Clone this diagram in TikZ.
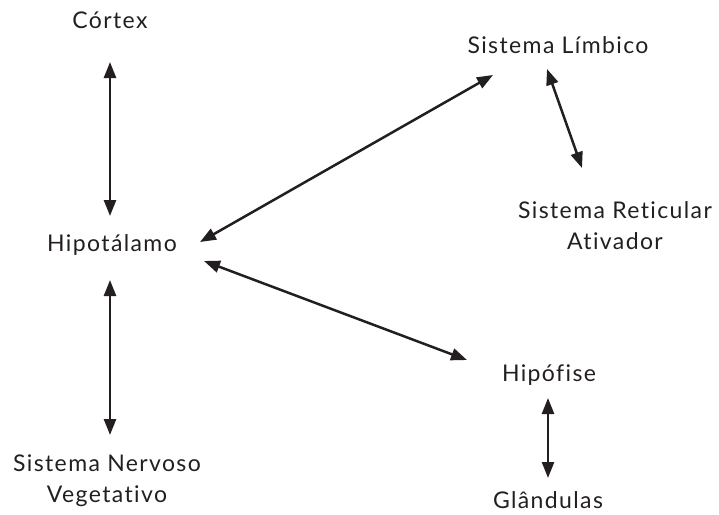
\documentclass[tikz,border=0pt]{standalone}
\usepackage{fontspec}
\setmainfont{Lato}[LetterSpace=6,Ligatures={NoCommon,NoRare}]
\usetikzlibrary{arrows.meta}
\definecolor{ink}{HTML}{231F20}
\begin{document}
\begin{tikzpicture}[x=1pt,y=-1pt,
  lbl/.style={inner sep=0pt,align=center,text=ink,font=\fontsize{23}{31}\selectfont},
  biarrow/.style={draw=ink,line width=2.5pt,{Triangle[length=16pt,width=12pt]}-{Triangle[length=16pt,width=12pt]}}]
\useasboundingbox (0,0) rectangle (719,514);
\node[lbl] (cortex) at (110,20) {Córtex};
\node[lbl] (limb) at (558,45) {Sistema Límbico};
\node[lbl] (ret) at (615,226) {Sistema Reticular\\Ativador};
\node[lbl] (hipo) at (112,245) {Hipotálamo};
\node[lbl] (hipof) at (549,375) {Hipófise};
\node[lbl] (snv) at (107,481) {Sistema Nervoso\\Vegetativo};
\node[lbl] (gland) at (548,500) {Glândulas};
\draw[biarrow] ([shift={(0,42)}]cortex.center) -- ([shift={(-2,-29)}]hipo.center);
\draw[biarrow] ([shift={(-2,35)}]hipo.center) -- ([shift={(3,-46)}]snv.center);
\draw[biarrow] ([shift={(88,-3)}]hipo.center) -- ([shift={(-65,30)}]limb.center);
\draw[biarrow] ([shift={(92,16)}]hipo.center) -- ([shift={(-82,-15)}]hipof.center);
\draw[biarrow] ([shift={(-11,24)}]limb.center) -- ([shift={(-33,-58)}]ret.center);
\draw[biarrow] ([shift={(-1,23)}]hipof.center) -- ([shift={(0,-22)}]gland.center);
\end{tikzpicture}
\end{document}
